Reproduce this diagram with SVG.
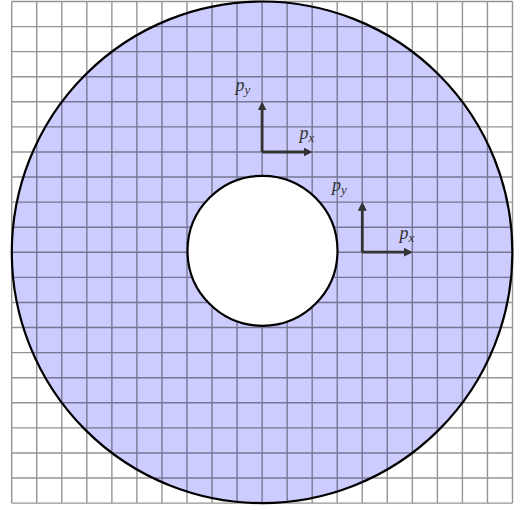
<svg xmlns="http://www.w3.org/2000/svg" width="528" height="510" viewBox="0 0 528 510">
<style>
.grid{fill:none;stroke:#000;stroke-opacity:0.42;stroke-width:1.4}
.edge{stroke:#000;stroke-width:2.2}
.arrow{fill:none;stroke:#333;stroke-width:2.8;marker-end:url(#ah)}
.lbl{font-family:"Liberation Serif",serif;font-style:italic;font-size:18px;fill:#333}
.sub{font-size:13px}
</style>
<defs>
<marker id="ah" viewBox="0 0 8 8" refX="5" refY="4" markerWidth="9" markerHeight="9" markerUnits="userSpaceOnUse" orient="auto">
<path d="M0,0 L8,4 L0,8 z" fill="#333"/>
</marker>
</defs>
<rect width="528" height="510" fill="#fff"/>
<g id="annulus-fill">
<ellipse cx="262.1" cy="252.3" rx="250.3" ry="250.8" fill="#ccccff"/>
</g>
<g id="grid">
<path class="grid" d="M11.7,1.5V503.1 M36.74,1.5V503.1 M61.78,1.5V503.1 M86.82,1.5V503.1 M111.86,1.5V503.1 M136.9,1.5V503.1 M161.94,1.5V503.1 M186.98,1.5V503.1 M212.02,1.5V503.1 M237.06,1.5V503.1 M262.1,1.5V503.1 M287.14,1.5V503.1 M312.18,1.5V503.1 M337.22,1.5V503.1 M362.26,1.5V503.1 M387.3,1.5V503.1 M412.34,1.5V503.1 M437.38,1.5V503.1 M462.42,1.5V503.1 M487.46,1.5V503.1 M512.5,1.5V503.1 M11.7,1.5H512.5 M11.7,26.58H512.5 M11.7,51.66H512.5 M11.7,76.74H512.5 M11.7,101.82H512.5 M11.7,126.9H512.5 M11.7,151.98H512.5 M11.7,177.06H512.5 M11.7,202.14H512.5 M11.7,227.22H512.5 M11.7,252.3H512.5 M11.7,277.38H512.5 M11.7,302.46H512.5 M11.7,327.54H512.5 M11.7,352.62H512.5 M11.7,377.7H512.5 M11.7,402.78H512.5 M11.7,427.86H512.5 M11.7,452.94H512.5 M11.7,478.02H512.5 M11.7,503.1H512.5"/>
</g>
<g id="outer-circle">
<ellipse class="edge" cx="262.1" cy="252.3" rx="250.3" ry="250.8" fill="none"/>
</g>
<g id="inner-circle">
<circle class="edge" cx="262.5" cy="250.8" r="75" fill="#fff"/>
</g>
<g id="connectors">
<line class="arrow" x1="262.1" y1="152" x2="262.1" y2="104.8"/>
<line class="arrow" x1="262.1" y1="152" x2="309.2" y2="152"/>
<line class="arrow" x1="362.3" y1="252.2" x2="362.3" y2="205"/>
<line class="arrow" x1="362.3" y1="252.2" x2="409.4" y2="252.2"/>
</g>
<g id="frame1">
<text class="lbl" x="235.5" y="91">p<tspan class="sub" dy="3">y</tspan></text>
<text class="lbl" x="299.5" y="139">p<tspan class="sub" dy="3">x</tspan></text>
</g>
<g id="frame2">
<text class="lbl" x="332" y="191">p<tspan class="sub" dy="3">y</tspan></text>
<text class="lbl" x="399.5" y="239">p<tspan class="sub" dy="3">x</tspan></text>
</g>
</svg>
